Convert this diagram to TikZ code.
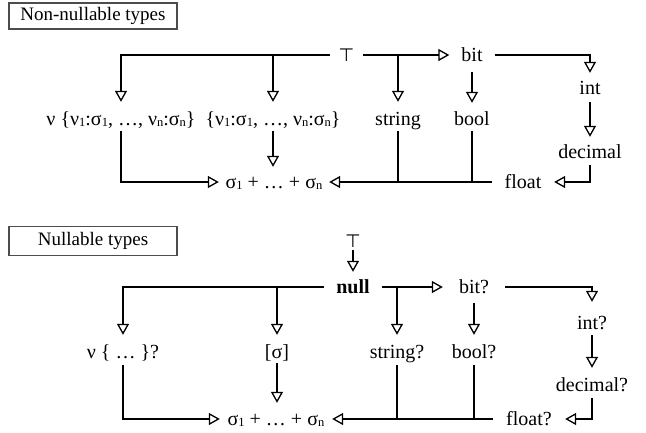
\documentclass[tikz,border=0pt]{standalone}
\usepackage{fontspec}
\setmainfont{Liberation Serif}
\newfontfamily\symfont{DejaVu Sans}
\usetikzlibrary{arrows.meta}
\newcommand\sbx[1]{\raisebox{-1.5pt}{\fontsize{12.5}{12.5}\selectfont #1}}
\begin{document}
\begin{tikzpicture}[x=1pt,y=-1pt,
  lbl/.style={font=\fontsize{20}{20}\selectfont, inner xsep=0pt, inner ysep=3pt, text height=13pt, text depth=1pt},
  ttop/.style={font=\symfont\fontsize{18}{18}\selectfont, inner sep=0pt, minimum height=18pt},
  hdr/.style={draw=black!70, line width=1.2pt, font=\fontsize{19}{19}\selectfont, minimum width=168pt, inner sep=0pt},
  ln/.style={line width=1.3pt},
  arr/.style={ln, -{Triangle[open,length=11pt,width=12pt,line width=1.3pt]}},
]
\useasboundingbox (0,0) rectangle (646,432);
% ---------- non-nullable ----------
\node[hdr, minimum height=26pt] (h1) at (93,16) {Non-nullable types};
\node[ttop, minimum width=33pt] (t1) at (346.5,55) {⊤};
\node[lbl, minimum width=45pt] (bit1) at (472,55) {bit};
\node[lbl] (int1) at (590,88) {int};
\node[lbl] (dec1) at (590,152) {decimal};
\node[lbl, minimum width=62pt] (flt1) at (523,182) {float};
\node[lbl, minimum width=110pt] (sum1) at (274,182) {σ\sbx{1} + … + σ\sbx{n}};
\node[lbl] (rec1) at (121,119) {ν \{ν\sbx{1}:σ\sbx{1}, …, ν\sbx{n}:σ\sbx{n}\}};
\node[lbl] (tup1) at (273,119) {\{ν\sbx{1}:σ\sbx{1}, …, ν\sbx{n}:σ\sbx{n}\}};
\node[lbl] (str1) at (398,119) {string};
\node[lbl] (bool1) at (472,119) {bool};

\draw[arr, shorten >=7pt] (t1.west) -| (rec1.north);
\draw[arr, shorten >=7pt] (tup1.north |- t1.west) -- (tup1.north);
\draw[arr] (t1.east) -- (bit1.west);
\draw[arr, shorten >=7pt] (str1.north |- t1.east) -- (str1.north);
\draw[arr, shorten <=7pt, shorten >=6pt] (bit1.south) -- (bool1.north);
\draw[arr, shorten >=5pt] (bit1.east) -| (int1.north);
\draw[arr, shorten <=4pt, shorten >=5pt] (int1.south) -- (dec1.north);
\draw[arr, shorten <=3pt] (dec1.south) |- (flt1.east);
\draw[arr] (flt1.west) -- (sum1.east);
\draw[ln, shorten <=2pt] (str1.south) -- (str1.south |- flt1.west);
\draw[ln, shorten <=2pt] (bool1.south) -- (bool1.south |- flt1.west);
\draw[arr, shorten <=2pt] (rec1.south) |- (sum1.west);
\draw[arr, shorten <=2pt, shorten >=5pt] (tup1.south) -- (tup1.south |- sum1.north);

% ---------- nullable ----------
\node[hdr, minimum height=29pt] (h2) at (93,241) {Nullable types};
\node[ttop] (t2) at (353,241) {⊤};
\node[lbl, minimum width=57pt] (null2) at (353,287) {\textbf{null}};
\node[lbl, minimum width=62pt] (bit2) at (474,287) {bit?};
\node[lbl] (int2) at (592,323) {int?};
\node[lbl] (dec2) at (592,385) {decimal?};
\node[lbl, minimum width=72pt] (flt2) at (529,419) {float?};
\node[lbl, minimum width=112pt] (sum2) at (276,419) {σ\sbx{1} + … + σ\sbx{n}};
\node[lbl] (rec2) at (123,352) {ν \{ … \}?};
\node[lbl] (lst2) at (277,352) {[σ]};
\node[lbl] (str2) at (397,352) {string?};
\node[lbl] (bool2) at (474,352) {bool?};

\draw[arr, shorten >=5pt] (t2.south) -- (null2.north);
\draw[arr, shorten >=7pt] (null2.west) -| (rec2.north);
\draw[arr, shorten >=7pt] (lst2.north |- null2.west) -- (lst2.north);
\draw[arr] (null2.east) -- (bit2.west);
\draw[arr, shorten >=7pt] (str2.north |- null2.east) -- (str2.north);
\draw[arr, shorten <=6pt, shorten >=7pt] (bit2.south) -- (bool2.north);
\draw[arr, shorten >=11pt] (bit2.east) -| (int2.north);
\draw[arr, shorten <=2pt, shorten >=7pt] (int2.south) -- (dec2.north);
\draw[arr, shorten <=3pt] (dec2.south) |- (flt2.east);
\draw[arr] (flt2.west) -- (sum2.east);
\draw[ln, shorten <=3pt] (str2.south) -- (str2.south |- flt2.west);
\draw[ln, shorten <=3pt] (bool2.south) -- (bool2.south |- flt2.west);
\draw[arr, shorten <=3pt] (rec2.south) |- (sum2.west);
\draw[arr, shorten <=1pt, shorten >=6pt] (lst2.south) -- (lst2.south |- sum2.north);
\end{tikzpicture}
\end{document}
